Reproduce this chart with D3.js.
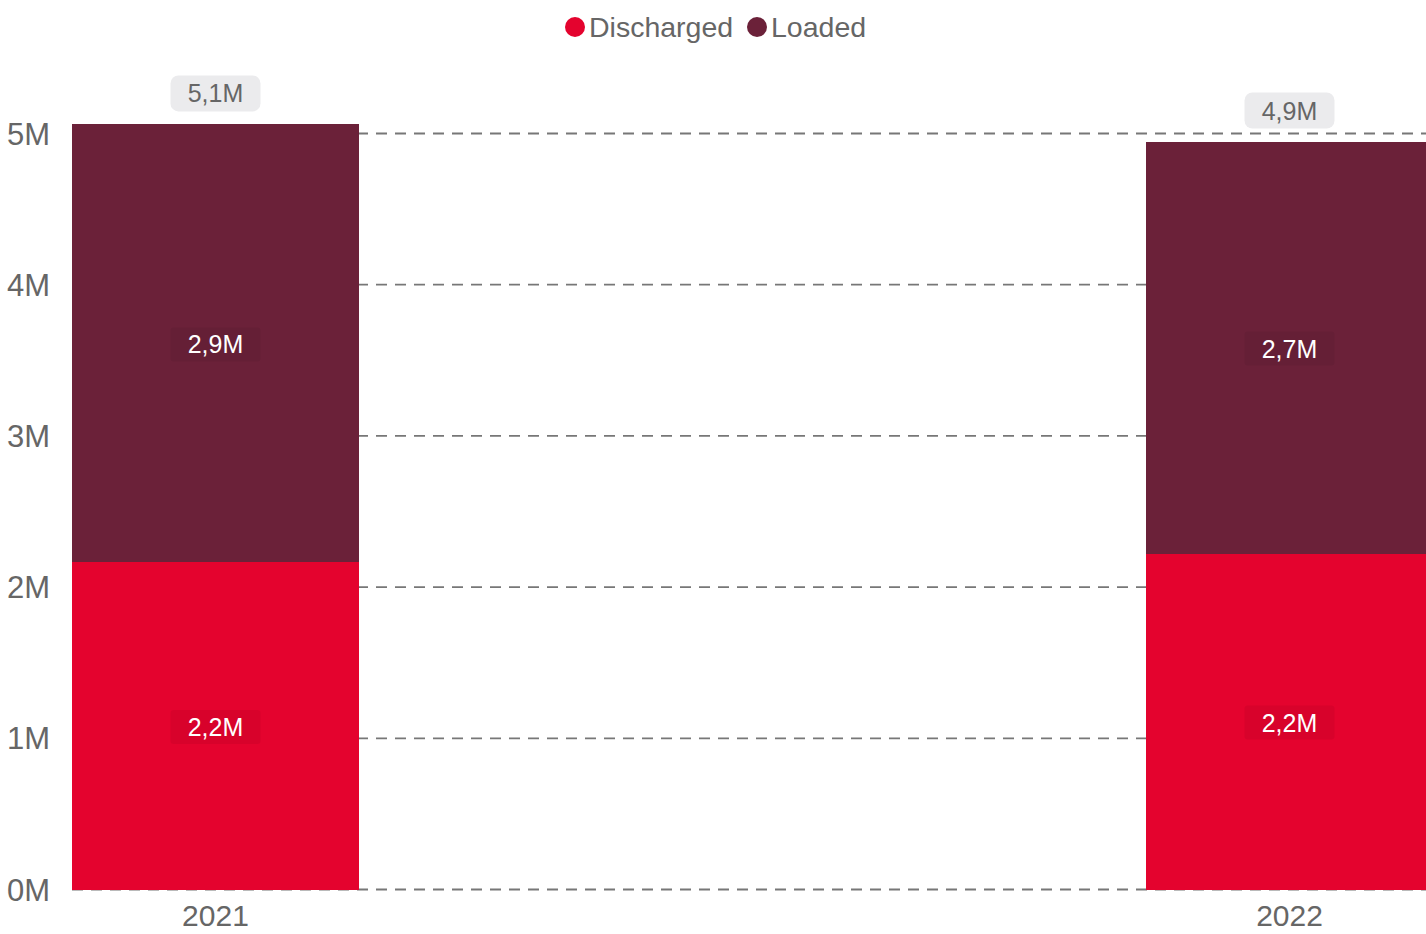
<!DOCTYPE html>
<html>
<head>
<meta charset="utf-8" />
<title>Discharged / Loaded</title>
<script src="https://cdn.jsdelivr.net/npm/d3@7"></script>
<style>
body { margin: 0; background: #fff; }
svg { display: block; font-family: "Liberation Sans", Arial, sans-serif; }
</style>
</head>
<body>
<div id="chart"></div>
<script>
// values in millions
const years = ["2021", "2022"];
const discharged = [2.163, 2.222];
const loaded = [2.897, 2.725];
const seriesNames = ["Discharged", "Loaded"];
const yTicks = [0, 1, 2, 3, 4, 5];

const colors = { Discharged: "#e4032e", Loaded: "#6b2139" };
const width = 1426, height = 934;

const svg = d3.select("#chart").append("svg")
	.attr("width", width)
	.attr("height", height);

const x = d3.scaleBand()
	.domain(years)
	.range([72, 1433])
	.paddingInner(0.7328)
	.paddingOuter(0);

const y = d3.scaleLinear()
	.domain([0, 5])
	.range([889.5, 133.5]);

const fmt = v => d3.format(".1f")(v).replace(".", ",") + "M";

// grid
svg.append("g").selectAll("line")
	.data(yTicks)
	.join("line")
	.attr("x1", 72).attr("x2", width)
	.attr("y1", d => y(d)).attr("y2", d => y(d))
	.attr("stroke", "#777")
	.attr("stroke-width", 1.8)
	.attr("stroke-dasharray", "11,8");

// y labels
svg.append("g").selectAll("text")
	.data(yTicks)
	.join("text")
	.attr("x", 50)
	.attr("y", d => y(d))
	.attr("dy", "0.36em")
	.attr("text-anchor", "end")
	.attr("fill", "#666")
	.attr("font-size", 31)
	.text(d => d + "M");

// stacked data
const rows = years.map((yr, i) => ({ year: yr, Discharged: discharged[i], Loaded: loaded[i] }));
const stack = d3.stack().keys(seriesNames)(rows);

const layers = svg.append("g").selectAll("g")
	.data(stack)
	.join("g")
	.attr("fill", d => colors[d.key]);

layers.selectAll("rect")
	.data(d => d)
	.join("rect")
	.attr("shape-rendering", "crispEdges")
	.attr("x", d => x(d.data.year))
	.attr("width", x.bandwidth())
	.attr("y", d => y(d[1]))
	.attr("height", d => y(d[0]) - y(d[1]));

// inner labels
const inner = svg.append("g").selectAll("g")
	.data(stack.flatMap(s => s.map(d => ({ key: s.key, d }))))
	.join("g")
	.attr("transform", o => "translate(" + (x(o.d.data.year) + x.bandwidth() / 2) + "," + ((y(o.d[0]) + y(o.d[1])) / 2 + 1) + ")");
inner.append("rect")
	.attr("x", -45).attr("y", -17)
	.attr("width", 90).attr("height", 34)
	.attr("rx", 3)
	.attr("fill", "#000")
	.attr("fill-opacity", 0.05);
inner.append("text")
	.attr("text-anchor", "middle")
	.attr("dy", "0.36em")
	.attr("fill", "#fff")
	.attr("font-size", 25)
	.text(o => fmt(o.d[1] - o.d[0]));

// totals
const totals = svg.append("g").selectAll("g")
	.data(rows)
	.join("g")
	.attr("transform", d => "translate(" + (x(d.year) + x.bandwidth() / 2) + "," + (y(d.Discharged + d.Loaded) - 31) + ")");
totals.append("rect")
	.attr("x", -45).attr("y", -18)
	.attr("width", 90).attr("height", 36)
	.attr("rx", 8)
	.attr("fill", "#ebebed");
totals.append("text")
	.attr("text-anchor", "middle")
	.attr("dy", "0.36em")
	.attr("fill", "#666")
	.attr("font-size", 25)
	.text(d => fmt(d.Discharged + d.Loaded));

// x labels
svg.append("g").selectAll("text")
	.data(years)
	.join("text")
	.attr("x", d => x(d) + x.bandwidth() / 2)
	.attr("y", 926)
	.attr("text-anchor", "middle")
	.attr("fill", "#666")
	.attr("font-size", 30)
	.text(d => d);

// legend
const legend = svg.append("g");
const legX = [575, 757];
seriesNames.forEach(function(name, i){
	legend.append("circle")
		.attr("cx", legX[i]).attr("cy", 27).attr("r", 10)
		.attr("fill", colors[name]);
	legend.append("text")
		.attr("x", legX[i] + 14).attr("y", 27)
		.attr("dy", "0.36em")
		.attr("fill", "#666")
		.attr("font-size", 28.5)
		.text(name);
});
</script>
</body>
</html>
